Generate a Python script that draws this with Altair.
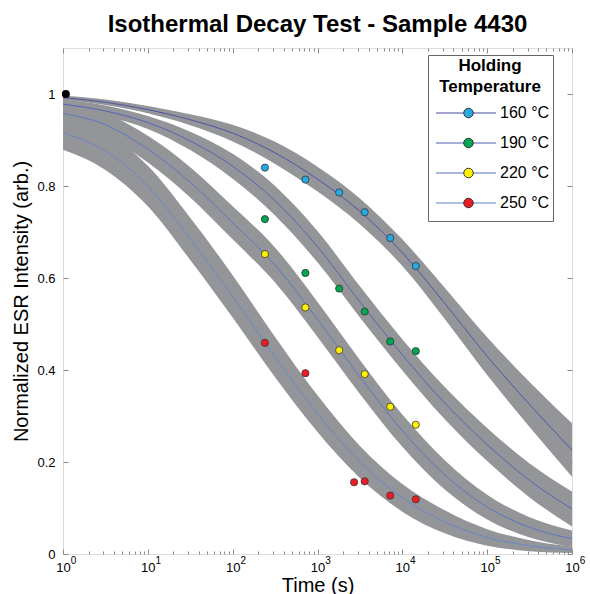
import altair as alt
import pandas as pd

FONT = "Liberation Sans"

# ---- data ----
SERIES = ["160 °C", "190 °C", "220 °C", "250 °C"]
SERIES_KEYS = ["160", "190", "220", "250"]

# model curves (time in s) and their uncertainty band half-widths
TIME_CURVE = [1, 3.162, 10, 31.62, 100, 316.2, 1000, 3162, 10000, 31623, 100000, 316228, 1000000]
FIT_160 = [0.992, 0.982, 0.966, 0.944, 0.915, 0.872, 0.815, 0.745, 0.655, 0.545, 0.430, 0.325, 0.226]
HW_160 = [0.005, 0.006, 0.008, 0.012, 0.018, 0.024, 0.027, 0.028, 0.029, 0.034, 0.041, 0.049, 0.058]
FIT_190 = [0.978, 0.963, 0.938, 0.898, 0.843, 0.768, 0.668, 0.548, 0.433, 0.328, 0.238, 0.160, 0.098]
HW_190 = [0.010, 0.012, 0.014, 0.020, 0.027, 0.032, 0.034, 0.034, 0.034, 0.035, 0.036, 0.037, 0.038]
FIT_220 = [0.958, 0.933, 0.880, 0.808, 0.720, 0.628, 0.510, 0.385, 0.268, 0.172, 0.102, 0.058, 0.033]
HW_220 = [0.020, 0.025, 0.029, 0.033, 0.036, 0.038, 0.038, 0.037, 0.035, 0.032, 0.027, 0.022, 0.018]
FIT_250 = [0.916, 0.876, 0.800, 0.685, 0.560, 0.428, 0.305, 0.200, 0.122, 0.070, 0.036, 0.018, 0.009]
HW_250 = [0.037, 0.041, 0.044, 0.046, 0.046, 0.044, 0.040, 0.035, 0.030, 0.025, 0.018, 0.012, 0.007]

# measured points
T_160 = [240, 720, 1800, 3600, 7200, 14400]
Y_160 = [0.840, 0.814, 0.786, 0.743, 0.687, 0.626]
T_190 = [240, 720, 1800, 3600, 7200, 14400]
Y_190 = [0.728, 0.611, 0.577, 0.527, 0.462, 0.441]
T_220 = [240, 720, 1800, 3600, 7200, 14400]
Y_220 = [0.652, 0.536, 0.443, 0.391, 0.320, 0.281]
T_250 = [240, 720, 2700, 3600, 7200, 14400]
Y_250 = [0.459, 0.393, 0.156, 0.158, 0.127, 0.119]

T_START = [1.08]
Y_START = [1.0]

# tick values / labels
X_MAJOR = [1, 10, 100, 1000, 10000, 100000, 1000000]
X_MINOR = [m * d for d in [1, 10, 100, 1000, 10000, 100000] for m in range(2, 10)]
Y_TICKS = [0, 0.2, 0.4, 0.6, 0.8, 1.0]

POINT_COLORS = ["#27aae1", "#00a651", "#fff200", "#ed1c24"]
LINE_COLORS = ["#5252a8", "#5664b6", "#5c76c2", "#6a88c8"]
BAND_COLOR = "#939598"
TICK_COLOR = "#8a8a8a"

# ---- tables ----
fits = [FIT_160, FIT_190, FIT_220, FIT_250]
hws = [HW_160, HW_190, HW_220, HW_250]
rows = []
for s, f, h in zip(SERIES, fits, hws):
    for t, m, w in zip(TIME_CURVE, f, h):
        rows.append({"Holding": s, "t": t, "mid": m, "lo": m - w, "hi": m + w})
curve_df = pd.DataFrame(rows)

prow = []
for s, ts, ys in zip(SERIES_KEYS, [T_160, T_190, T_220, T_250], [Y_160, Y_190, Y_220, Y_250]):
    for t, y in zip(ts, ys):
        prow.append({"Temp": s, "t": t, "y": y})
pts_df = pd.DataFrame(prow)
start_df = pd.DataFrame({"t": T_START, "y": Y_START})

xs = alt.Scale(type="log", domain=[1, 1e6], nice=False)
ys = alt.Scale(domain=[0, 1.1], nice=False, zero=False)

IN_MAJ = {"expr": "-5"}
IN_MIN = {"expr": "-3"}

COMMON_AX = dict(grid=False, domain=False, tickColor=TICK_COLOR, tickWidth=1,
                 labelFont=FONT, titleFont=FONT, labelColor="black", titleColor="black",
                 titleFontWeight="normal", labelFlush=False, labelOverlap=False)

bands = alt.Chart(curve_df).mark_area(color=BAND_COLOR, opacity=1, interpolate="monotone").encode(
    x=alt.X("t:Q", scale=xs, axis=alt.Axis(
        orient="bottom", values=X_MAJOR, labelExpr="'10'", tickSize=IN_MAJ,
        labelPadding=12, labelFontSize=13,
        title="Time (s)", titleFontSize=20, titleY=37, titleBaseline="alphabetic", **COMMON_AX)),
    y=alt.Y("lo:Q", scale=ys, axis=alt.Axis(
        orient="left", values=Y_TICKS, format="~g", tickSize=IN_MAJ, labelPadding=13,
        labelFontSize=13,
        title="Normalized ESR Intensity (arb.)", titleFontSize=20,
        titleX=-36, titleY=253, titleBaseline="alphabetic", titleAlign="center", titleAngle=270,
        **COMMON_AX)),
    y2="hi:Q",
    detail="Holding:N",
)

lines = alt.Chart(curve_df).mark_line(strokeWidth=1, interpolate="monotone").encode(
    x=alt.X("t:Q", scale=xs, axis=alt.Axis(
        orient="bottom", values=X_MINOR, labels=False, tickSize=IN_MIN, title=None, **COMMON_AX)),
    y=alt.Y("mid:Q", scale=ys, axis=alt.Axis(
        orient="right", values=Y_TICKS, labels=False, tickSize=IN_MAJ, title=None, **COMMON_AX)),
    color=alt.Color("Holding:N", scale=alt.Scale(domain=SERIES, range=LINE_COLORS), legend=alt.Legend(
        orient="none", legendX=365, legendY=7, title=["Holding", "Temperature"],
        titleFontSize=17, titleFontWeight="bold", titleAnchor="middle", titleAlign="center",
        titleLineHeight=21, titlePadding=2, padding=3, strokeColor="#666666", fillColor="white",
        symbolType="stroke", symbolSize=3600, symbolStrokeWidth=1.5, symbolOpacity=0.7,
        symbolOffset=4, clipHeight=30, rowPadding=0, labelFontSize=16, labelOffset=3,
        labelExpr="datum.label + '\u00a0\u00a0'",
        labelFont=FONT, titleFont=FONT, labelColor="black", titleColor="black",
    )),
)

points = alt.Chart(pts_df).mark_point(filled=True, size=52, stroke="#333333", strokeWidth=0.8, opacity=1).encode(
    x=alt.X("t:Q", scale=xs, axis=alt.Axis(
        orient="bottom", values=X_MAJOR, ticks=False, labelExpr="round(log(datum.value)/LN10) + ''",
        labelOffset=10, labelPadding=1, labelFontSize=10, title=None, **COMMON_AX)),
    y=alt.Y("y:Q", scale=ys, axis=None),
    fill=alt.Fill("Temp:N", scale=alt.Scale(domain=SERIES_KEYS, range=POINT_COLORS), legend=alt.Legend(
        orient="none", legendX=365, legendY=47, title=None, padding=3,
        symbolType="circle", symbolSize=90, symbolStrokeColor="#333333", symbolStrokeWidth=1,
        symbolOffset=29.5, clipHeight=30, rowPadding=0, labelFontSize=16, labelExpr="''",
        labelFont=FONT,
    )),
)

start = alt.Chart(start_df).mark_circle(size=64, color="black", opacity=1).encode(
    x=alt.X("t:Q", scale=xs, axis=alt.Axis(
        orient="top", values=X_MAJOR, labels=False, tickSize=IN_MAJ, title=None, **COMMON_AX)),
    y=alt.Y("y:Q", scale=ys, axis=None),
)

top_minor = alt.Chart(start_df).mark_circle(size=0, opacity=0).encode(
    x=alt.X("t:Q", scale=xs, axis=alt.Axis(
        orient="top", values=X_MINOR, labels=False, tickSize=IN_MIN, title=None, **COMMON_AX)),
    y=alt.Y("y:Q", scale=ys, axis=None),
)

chart = alt.layer(bands, lines, points, start, top_minor).resolve_axis(
    x="independent", y="independent"
).properties(
    width=509, height=506,
    autosize=alt.AutoSizeParams(type="none"),
    padding={"left": 63, "top": 48, "right": 18, "bottom": 40},
    title=alt.TitleParams("Isothermal Decay Test - Sample 4430", fontSize=24, fontWeight="bold",
                          font=FONT, anchor="middle", baseline="alphabetic", offset=19, dy=27,
                          color="black"),
).configure_view(
    stroke="#888888", strokeWidth=1.3
).configure(background="white")

chart.save("out.html", embed_options={"renderer": "svg", "actions": False})
